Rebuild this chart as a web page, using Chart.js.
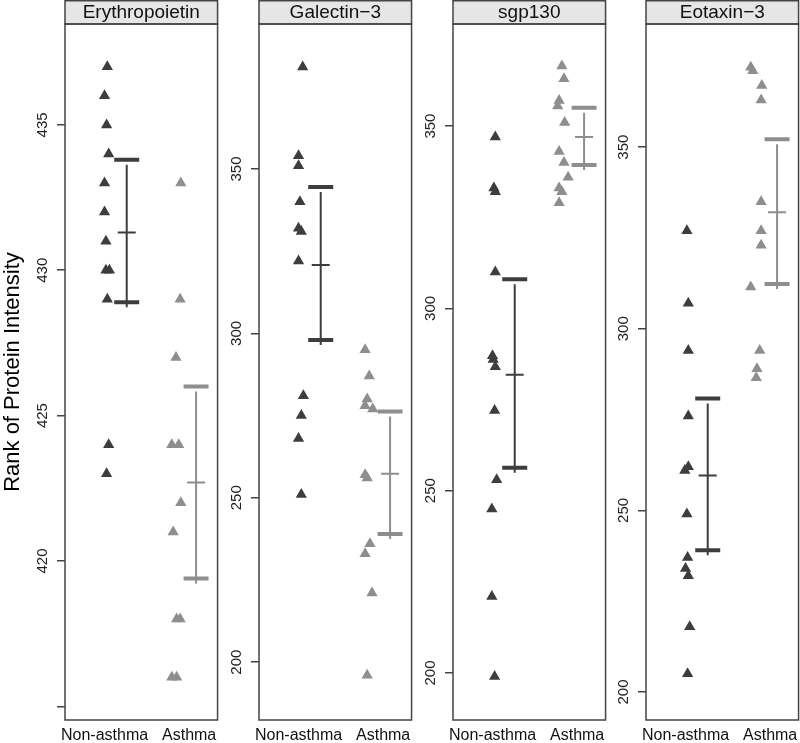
<!DOCTYPE html>
<html>
<head>
<meta charset="utf-8">
<script src="https://cdn.jsdelivr.net/npm/chart.js@4.4.1/dist/chart.umd.min.js"></script>
<style>
  html, body { margin: 0; padding: 0; background: #fff; overflow: hidden; }
  body { width: 800px; height: 743px; position: relative; }
  canvas { position: absolute; top: 0; }
</style>
</head>
<body>
<canvas id="c0"></canvas>
<canvas id="c1"></canvas>
<canvas id="c2"></canvas>
<canvas id="c3"></canvas>
<script>
const FONT = '"Liberation Sans", Arial, Helvetica, sans-serif';
const DARK = '#3d3d3d';
const LIGHT = '#8e8e8e';

const PANELS = ['Erythropoietin', 'Galectin\u22123', 'sgp130', 'Eotaxin\u22123'];
const GROUPS = ['Non-asthma', 'Asthma'];
const GROUP_LABEL_POS = [0.97, 2.19];
const BAR_POS = [1.29, 2.29];

// axis ranges + ticks
const Y_MIN = [414.53, 182.4, 187.1, 192.3];
const Y_MAX = [438.47, 394.1, 378.0, 383.9];
const Y_TICKS = [
  [415, 420, 425, 430, 435],
  [200, 250, 300, 350],
  [200, 250, 300, 350],
  [200, 250, 300, 350]
];
const Y_TICK_LABELS = [
  ['', '420', '425', '430', '435'],
  ['200', '250', '300', '350'],
  ['200', '250', '300', '350'],
  ['200', '250', '300', '350']
];

// Erythropoietin
const EPO_NON = [437, 436, 435, 434, 433, 432, 431, 430, 430, 429, 424, 423];
const EPO_NON_X = [1.01, 0.97, 1.00, 1.03, 0.97, 0.97, 0.99, 0.99, 1.04, 1.01, 1.03, 1.00];
const EPO_ASTHMA = [433, 429, 427, 424, 424, 422, 421, 418, 418, 416, 416];
const EPO_ASTHMA_X = [2.07, 2.06, 2.00, 1.94, 2.04, 2.07, 1.96, 2.01, 2.06, 1.94, 2.01];
const EPO_BARS = [[428.9, 431.3, 433.8], [419.4, 422.7, 426.0]];

// Galectin-3
const GAL_NON = [381, 354, 351, 340, 332, 331, 322, 281, 275, 268, 251];
const GAL_NON_X = [1.03, 0.97, 0.97, 0.99, 0.97, 1.01, 0.97, 1.04, 1.01, 0.97, 1.01];
const GAL_ASTHMA = [295, 287, 280, 278, 277, 257, 256, 236, 233, 221, 196];
const GAL_ASTHMA_X = [1.93, 1.99, 1.96, 1.93, 2.04, 1.93, 1.96, 2.00, 1.93, 2.03, 1.96];
const GAL_BARS = [[298.0, 320.8, 344.5], [239.0, 257.3, 276.2]];

// sgp130
const SGP_NON = [347, 333, 332, 310, 287, 286, 284, 272, 253, 245, 221, 199];
const SGP_NON_X = [1.01, 0.99, 1.01, 1.01, 0.97, 0.98, 1.01, 1.00, 1.03, 0.96, 0.96, 1.00];
const SGP_ASTHMA = [366.5, 363, 357, 355.5, 351, 343, 340, 336, 333, 332, 329];
const SGP_ASTHMA_X = [1.97, 2.00, 1.93, 1.91, 2.01, 1.93, 2.00, 2.06, 1.93, 1.97, 1.93];
const SGP_BARS = [[256.3, 281.8, 308.0], [339.3, 347.0, 355.0]];

// Eotaxin-3
const EOT_NON = [327, 307, 294, 276, 262, 261, 249, 237, 234, 232, 218, 205];
const EOT_NON_X = [0.99, 1.01, 1.01, 1.01, 1.01, 0.96, 0.99, 1.00, 0.97, 1.01, 1.03, 1.00];
const EOT_ASTHMA = [372, 371, 367, 363, 335, 327, 323, 311.5, 294, 289, 286.5];
const EOT_ASTHMA_X = [1.91, 1.94, 2.07, 2.06, 2.06, 2.06, 2.06, 1.91, 2.04, 2.00, 1.99];
const EOT_BARS = [[239.0, 259.6, 280.8], [312.3, 332.1, 352.2]];

const SERIES = [
  [EPO_NON, EPO_NON_X, EPO_ASTHMA, EPO_ASTHMA_X, EPO_BARS],
  [GAL_NON, GAL_NON_X, GAL_ASTHMA, GAL_ASTHMA_X, GAL_BARS],
  [SGP_NON, SGP_NON_X, SGP_ASTHMA, SGP_ASTHMA_X, SGP_BARS],
  [EOT_NON, EOT_NON_X, EOT_ASTHMA, EOT_ASTHMA_X, EOT_BARS]
];

const PANEL_LEFT = [65, 259, 453, 646];
const PANEL_W = 154;

// whisker is drawn a few px lower than caps in the original
const shiftPlugin = {
  id: 'shift',
  beforeDatasetDraw(chart, args) {
    const d = chart.data.datasets[args.index];
    if (d.shiftY) { chart.ctx.save(); chart.ctx.translate(0, d.shiftY); }
  },
  afterDatasetDraw(chart, args) {
    const d = chart.data.datasets[args.index];
    if (d.shiftY) chart.ctx.restore();
  }
};

const framePlugin = {
  id: 'frame',
  afterDraw(chart, args, opts) {
    const { ctx, chartArea: a } = chart;
    const w = a.right - a.left;
    ctx.save();
    ctx.lineWidth = 1.5;
    ctx.strokeStyle = '#444';
    ctx.fillStyle = '#e6e6e6';
    ctx.fillRect(a.left, 0.75, w, a.top - 0.75);
    ctx.strokeRect(a.left, 0.75, w, a.top - 0.75);
    ctx.strokeRect(a.left, a.top, w, a.bottom - a.top);
    ctx.fillStyle = '#111';
    ctx.font = '19px ' + FONT;
    ctx.textAlign = 'center';
    ctx.textBaseline = 'middle';
    ctx.fillText(opts.text, (a.left + a.right) / 2, a.top / 2 + 1);
    ctx.restore();
  }
};

function points(ys, xs) {
  return ys.map((y, k) => ({ x: xs[k], y }));
}

function barDatasets(bars, g, color) {
  const [lo, mean, hi] = bars[g];
  const x = BAR_POS[g];
  return [
    { data: [{ x, y: lo }, { x, y: hi }], showLine: true, borderColor: color, borderWidth: 2, pointRadius: 0, shiftY: 5 },
    { data: [{ x, y: lo }, { x, y: hi }], pointStyle: 'line', pointRadius: 12.5, pointBorderWidth: 4, pointBorderColor: color },
    { data: [{ x, y: mean }], pointStyle: 'line', pointRadius: 9, pointBorderWidth: 2, pointBorderColor: color }
  ];
}

function makeChart(i) {
  const [nonY, nonX, asY, asX, bars] = SERIES[i];
  const axisW = i === 0 ? 65 : 40;
  const canvas = document.getElementById('c' + i);
  canvas.width = axisW + PANEL_W + 4;
  canvas.height = 743;
  canvas.style.left = (PANEL_LEFT[i] - axisW) + 'px';

  const tri = (data, color) => ({
    data, pointStyle: 'triangle', pointRadius: 6.5, pointBackgroundColor: color, pointBorderWidth: 0
  });

  return new Chart(canvas, {
    type: 'scatter',
    data: {
      datasets: [
        tri(points(nonY, nonX), DARK),
        tri(points(asY, asX), LIGHT),
        ...barDatasets(bars, 0, DARK),
        ...barDatasets(bars, 1, LIGHT)
      ]
    },
    options: {
      responsive: false,
      devicePixelRatio: 1,
      animation: false,
      events: [],
      layout: { autoPadding: false, padding: { top: 24, right: 4, left: 0, bottom: 0 } },
      plugins: { legend: { display: false }, tooltip: { enabled: false }, frame: { text: PANELS[i] } },
      scales: {
        x: {
          type: 'linear', min: 0.4, max: 2.6,
          afterBuildTicks: s => { s.ticks = GROUP_LABEL_POS.map(v => ({ value: v })); },
          afterFit: s => { s.height = 23; },
          ticks: { autoSkip: false, minRotation: 0, maxRotation: 0, padding: 6, color: '#111',
                   font: { family: FONT, size: 16 }, callback: (v, k) => GROUPS[k] },
          grid: { display: false, drawTicks: false },
          border: { display: false }
        },
        y: {
          min: Y_MIN[i], max: Y_MAX[i],
          afterBuildTicks: s => { s.ticks = Y_TICKS[i].map(v => ({ value: v })); },
          afterFit: s => { s.width = axisW; },
          ticks: { autoSkip: false, minRotation: 90, maxRotation: 90, crossAlign: 'center', padding: 2,
                   color: '#222', font: { family: FONT, size: 15 }, callback: (v, k) => Y_TICK_LABELS[i][k] },
          grid: { drawOnChartArea: false, drawTicks: true, tickLength: 8, color: '#444', lineWidth: 1.5 },
          border: { display: false },
          title: i === 0
            ? { display: true, text: 'Rank of Protein Intensity', color: '#000',
                font: { family: FONT, size: 22 }, padding: { top: 0, bottom: 0 } }
            : { display: false }
        }
      }
    },
    plugins: [shiftPlugin, framePlugin]
  });
}

[0, 1, 2, 3].forEach(makeChart);
</script>
</body>
</html>
